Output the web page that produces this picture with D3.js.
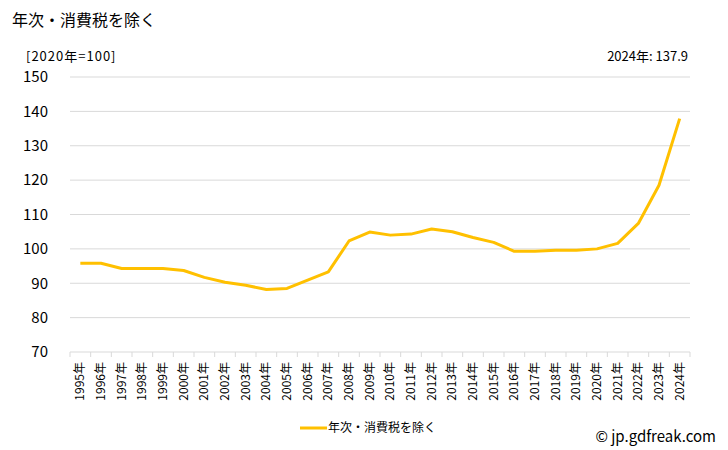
<!DOCTYPE html>
<html>
<head>
<meta charset="utf-8">
<script src="https://cdn.jsdelivr.net/npm/d3@7"></script>
<style>
  body { margin: 0; background: #fff; }
  text { font-family: "Noto Sans CJK JP", "DejaVu Sans", sans-serif; fill: #000; }
</style>
</head>
<body>
<div id="chart"></div>
<script>
const years = ["1995", "1996", "1997", "1998", "1999", "2000", "2001", "2002", "2003", "2004",
    "2005", "2006", "2007", "2008", "2009", "2010", "2011", "2012", "2013", "2014",
    "2015", "2016", "2017", "2018", "2019", "2020", "2021", "2022", "2023", "2024"];
const values = [95.8, 95.8, 94.3, 94.3, 94.3, 93.7, 91.7, 90.3, 89.4, 88.2,
    88.5, 90.9, 93.3, 102.3, 104.9, 104.0, 104.3, 105.8, 105.0, 103.3,
    101.9, 99.3, 99.3, 99.6, 99.6, 100.0, 101.6, 107.4, 118.5, 137.9];
const yTicks = [70, 80, 90, 100, 110, 120, 130, 140, 150];
const seriesName = "年次・消費税を除く";

const margin = { top: 77, right: 38, bottom: 98, left: 70 };
const width = 728 - margin.left - margin.right;
const height = 450 - margin.top - margin.bottom;

const svg = d3.select("#chart").append("svg")
    .attr("width", 728)
    .attr("height", 450);

svg.append("text")
    .attr("x", 12).attr("y", 26)
    .attr("font-size", 16)
    .text(seriesName);

svg.append("text")
    .attr("x", 26).attr("y", 61)
    .attr("font-size", 13)
    .attr("letter-spacing", 1)
    .attr("font-family", "DejaVu Sans")
    .text("[2020年=100]");

svg.append("text")
    .attr("x", 688).attr("y", 61)
    .attr("text-anchor", "end")
    .attr("font-size", 13)
    .text(`${years[years.length - 1]}年: ${values[values.length - 1]}`);

const g = svg.append("g")
    .attr("transform", `translate(${margin.left}, ${margin.top})`);

const x = d3.scaleBand().domain(years).range([0, width]);
const y = d3.scaleLinear().domain([70, 150]).range([height, 0]);

// gridlines
g.append("g")
    .selectAll("line")
    .data(yTicks.filter((d) => d > 70))
    .join("line")
    .attr("x1", 0).attr("x2", width)
    .attr("y1", (d) => y(d)).attr("y2", (d) => y(d))
    .attr("stroke", "#d9d9d9");

// y axis labels
g.append("g")
    .call(d3.axisLeft(y).tickValues(yTicks).tickSize(0).tickPadding(22))
    .call((a) => a.select(".domain").remove())
    .selectAll("text")
    .attr("font-size", 15);

// x axis
const xAxis = g.append("g")
    .attr("transform", `translate(0, ${height})`);
xAxis.append("line")
    .attr("x1", 0).attr("x2", width)
    .attr("stroke", "#d9d9d9");
xAxis.selectAll(".tick")
    .data(years.concat(["end"]))
    .join("line")
    .attr("x1", (d, i) => i * x.step()).attr("x2", (d, i) => i * x.step())
    .attr("y1", 0).attr("y2", 5)
    .attr("stroke", "#d9d9d9");
xAxis.selectAll(".lbl")
    .data(years)
    .join("text")
    .attr("transform", (d) => `translate(${x(d) + x.bandwidth() / 2 + 4}, 10) rotate(-90)`)
    .attr("text-anchor", "end")
    .attr("font-size", 12)
    .attr("font-family", "DejaVu Sans")
    .text((d) => d + "年");

const line = d3.line()
    .x((d, i) => x(years[i]) + x.bandwidth() / 2)
    .y((d) => y(d));

g.append("path")
    .datum(values)
    .attr("fill", "none")
    .attr("stroke", "#ffc000")
    .attr("stroke-width", 3)
    .attr("stroke-linejoin", "round")
    .attr("d", line);

// legend
svg.append("line")
    .attr("x1", 300).attr("x2", 327)
    .attr("y1", 428).attr("y2", 428)
    .attr("stroke", "#ffc000")
    .attr("stroke-width", 3);
svg.append("text")
    .attr("x", 328).attr("y", 432)
    .attr("font-size", 12)
    .text(seriesName);

svg.append("text")
    .attr("x", 716).attr("y", 442)
    .attr("text-anchor", "end")
    .attr("font-size", 15)
    .text("© jp.gdfreak.com");
</script>
</body>
</html>
